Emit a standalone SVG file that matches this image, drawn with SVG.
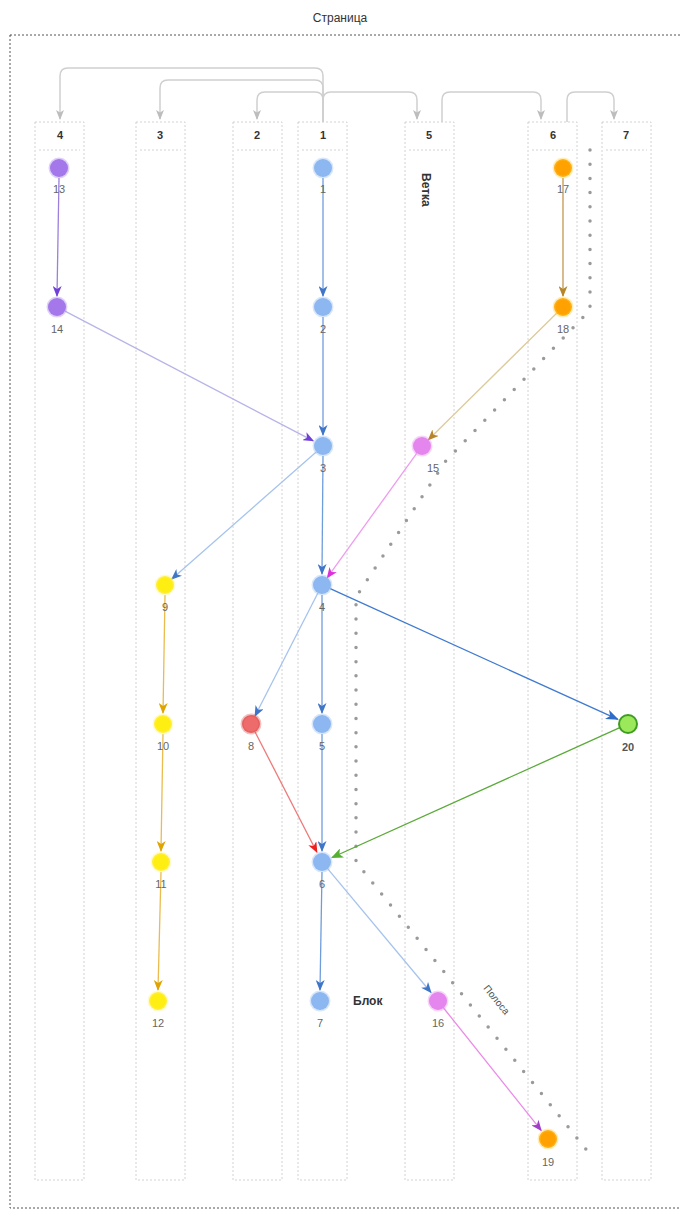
<svg xmlns="http://www.w3.org/2000/svg" width="680" height="1213" viewBox="0 0 680 1213">
<style>
text{font-family:"Liberation Sans",Arial,sans-serif}
.title{font-size:12px;fill:#333;text-anchor:middle}
.lane rect{fill:none;stroke:#d2d2d2;stroke-dasharray:2 2;stroke-width:1}
.lane line{stroke:#d2d2d2;stroke-dasharray:2 2;stroke-width:1}
.lane text{font-size:11px;font-weight:bold;fill:#333;text-anchor:middle}
.nl{font-size:11px;fill:#666;text-anchor:middle}
.top{fill:none;stroke:#cfcfcf;stroke-width:1.5}
.e{fill:none;stroke-width:1.3}
.blue{stroke:#6f9ddc}
.lblue{stroke:#a6c3ee}
.node circle{stroke-width:3;stroke-opacity:0.35}
.b circle{fill:#8db7f0;stroke:#8db7f0}
.p circle{fill:#a478ea;stroke:#a478ea}
.y circle{fill:#ffee11;stroke:#fff27a}
.o circle{fill:#ffa100;stroke:#ffcc33}
.r circle{fill:#ee6b6b;stroke:#d84a4a}
.m circle{fill:#e486ee;stroke:#e486ee}
.g circle{fill:#9be85a;stroke:#3f9e22;stroke-width:2;stroke-opacity:1}
.lbl{font-size:12px;font-weight:bold;fill:#333}
</style>
<defs>
<marker id="aGray" markerUnits="userSpaceOnUse" markerWidth="10" markerHeight="8" refX="9" refY="4" orient="auto"><path d="M0,0 L10,4 L0,8 L2.5,4 z" fill="#bdbdbd"/></marker>
<marker id="aBlue" markerUnits="userSpaceOnUse" markerWidth="11" markerHeight="9" refX="10" refY="4.5" orient="auto"><path d="M0,0 L11,4.5 L0,9 L3,4.5 z" fill="#3f76c8"/></marker>
<marker id="aPurple" markerUnits="userSpaceOnUse" markerWidth="11" markerHeight="9" refX="10" refY="4.5" orient="auto"><path d="M0,0 L11,4.5 L0,9 L3,4.5 z" fill="#7040d8"/></marker>
<marker id="aYellow" markerUnits="userSpaceOnUse" markerWidth="11" markerHeight="9" refX="10" refY="4.5" orient="auto"><path d="M0,0 L11,4.5 L0,9 L3,4.5 z" fill="#e0a400"/></marker>
<marker id="aBrown" markerUnits="userSpaceOnUse" markerWidth="11" markerHeight="9" refX="10" refY="4.5" orient="auto"><path d="M0,0 L11,4.5 L0,9 L3,4.5 z" fill="#b8862a"/></marker>
<marker id="aRed" markerUnits="userSpaceOnUse" markerWidth="11" markerHeight="9" refX="10" refY="4.5" orient="auto"><path d="M0,0 L11,4.5 L0,9 L3,4.5 z" fill="#ee2020"/></marker>
<marker id="aGreen" markerUnits="userSpaceOnUse" markerWidth="12" markerHeight="10" refX="11" refY="5" orient="auto"><path d="M0,0 L12,5 L0,10 L3,5 z" fill="#55b030"/></marker>
<marker id="aMag" markerUnits="userSpaceOnUse" markerWidth="11" markerHeight="9" refX="10" refY="4.5" orient="auto"><path d="M0,0 L11,4.5 L0,9 L3,4.5 z" fill="#dd30dd"/></marker>
<marker id="aViolet" markerUnits="userSpaceOnUse" markerWidth="11" markerHeight="9" refX="10" refY="4.5" orient="auto"><path d="M0,0 L11,4.5 L0,9 L3,4.5 z" fill="#a040c8"/></marker>
<marker id="aBlue2" markerUnits="userSpaceOnUse" markerWidth="13" markerHeight="10" refX="12" refY="5" orient="auto"><path d="M0,0 L13,5 L0,10 L3.5,5 z" fill="#2f6cc8"/></marker>
</defs>
<rect width="680" height="1213" fill="#ffffff"/>
<text class="title" x="340" y="22">Страница</text>
<rect id="page" x="10" y="35" width="690" height="1173" fill="none" stroke="#555" stroke-width="1" stroke-dasharray="2 2"/>

<g id="lanes">
<g id="lane4" class="lane"><rect x="35" y="122" width="49" height="1058"/><line x1="39" y1="150" x2="80" y2="150"/><text x="60" y="139">4</text></g>
<g id="lane3" class="lane"><rect x="136" y="122" width="49" height="1058"/><line x1="140" y1="150" x2="181" y2="150"/><text x="160" y="139">3</text></g>
<g id="lane2" class="lane"><rect x="233" y="122" width="49" height="1058"/><line x1="237" y1="150" x2="278" y2="150"/><text x="257" y="139">2</text></g>
<g id="lane1" class="lane"><rect x="298" y="122" width="49" height="1058"/><line x1="302" y1="150" x2="343" y2="150"/><text x="323" y="139">1</text></g>
<g id="lane5" class="lane"><rect x="405" y="122" width="49" height="1058"/><line x1="409" y1="150" x2="450" y2="150"/><text x="429" y="139">5</text></g>
<g id="lane6" class="lane"><rect x="528" y="122" width="49" height="1058"/><line x1="532" y1="150" x2="573" y2="150"/><text x="553" y="139">6</text></g>
<g id="lane7" class="lane"><rect x="602" y="122" width="49" height="1058"/><line x1="606" y1="150" x2="647" y2="150"/><text x="626" y="139">7</text></g>
</g>

<g id="stripe">
<path d="M590,150 V310 L445,462 L356,597 V862 L589,1153" fill="none" stroke="#9a9a9a" stroke-width="3.5" stroke-linecap="round" stroke-dasharray="0 14.2"/>
<text class="nl" transform="translate(494,1002) rotate(51)" style="font-size:10px;fill:#555">Полоса</text>
</g>

<g id="connectors">
<path class="top" d="M323,122 V76 Q323,68 315,68 H68 Q60,68 60,76 V119" marker-end="url(#aGray)"/>
<path class="top" d="M323,122 V88 Q323,80 315,80 H168 Q160,80 160,88 V119" marker-end="url(#aGray)"/>
<path class="top" d="M323,122 V100 Q323,92 315,92 H265 Q257,92 257,100 V119" marker-end="url(#aGray)"/>
<path class="top" d="M323,122 V100 Q323,92 331,92 H409 Q417,92 417,100 V119" marker-end="url(#aGray)"/>
<path class="top" d="M442,122 V100 Q442,92 450,92 H533 Q541,92 541,100 V119" marker-end="url(#aGray)"/>
<path class="top" d="M567,122 V100 Q567,92 575,92 H606 Q614,92 614,100 V119" marker-end="url(#aGray)"/>

<line class="e" x1="59" y1="178" x2="57" y2="296" stroke="#9c80dc" marker-end="url(#aPurple)"/>
<line class="e" x1="65" y1="311.2" x2="313.2" y2="440.9" stroke="#b8b4e8" marker-end="url(#aPurple)"/>
<line class="e blue" x1="323" y1="178" x2="323" y2="296" marker-end="url(#aBlue)"/>
<line class="e blue" x1="323" y1="317" x2="323" y2="435" marker-end="url(#aBlue)"/>
<line class="e blue" x1="323" y1="456" x2="322" y2="574" marker-end="url(#aBlue)"/>
<line class="e blue" x1="322" y1="595" x2="322" y2="713" marker-end="url(#aBlue)"/>
<line class="e blue" x1="322" y1="734" x2="322" y2="851" marker-end="url(#aBlue)"/>
<line class="e blue" x1="322" y1="872" x2="320" y2="990" marker-end="url(#aBlue)"/>
<line class="e lblue" x1="316.2" y1="452" x2="171.8" y2="579" marker-end="url(#aBlue)"/>
<line class="e lblue" x1="317.9" y1="593" x2="255" y2="716" marker-end="url(#aBlue)"/>
<line class="e" x1="330.2" y1="588.7" x2="617.9" y2="719.4" stroke="#3f7ad0" stroke-width="2" marker-end="url(#aBlue2)"/>
<line class="e" x1="619.8" y1="727.7" x2="332" y2="857.5" stroke="#5aaa38" stroke-width="2" marker-end="url(#aGreen)"/>
<line class="e" x1="255.1" y1="732" x2="316.9" y2="852.2" stroke="#ee7a7a" marker-end="url(#aRed)"/>
<line class="e lblue" x1="327.8" y1="868.9" x2="431" y2="992.5" marker-end="url(#aBlue)"/>
<line class="e" x1="443.6" y1="1008" x2="541.2" y2="1130.4" stroke="#ea8ae8" marker-end="url(#aViolet)"/>
<line class="e" x1="165" y1="595" x2="163" y2="713" stroke="#eabc50" marker-end="url(#aYellow)"/>
<line class="e" x1="163" y1="734" x2="161" y2="851" stroke="#eabc50" marker-end="url(#aYellow)"/>
<line class="e" x1="161" y1="872" x2="158" y2="990" stroke="#eabc50" marker-end="url(#aYellow)"/>
<line class="e" x1="563" y1="178" x2="563" y2="296" stroke="#c49650" marker-end="url(#aBrown)"/>
<line class="e" x1="556.6" y1="313.3" x2="428.4" y2="439.7" stroke="#dccb9c" marker-end="url(#aBrown)"/>
<line class="e" x1="416.7" y1="453.3" x2="327.3" y2="577.7" stroke="#ee9cee" marker-end="url(#aMag)"/>
</g>

<g id="nodes">
<g id="n13" class="node p"><circle cx="59" cy="168" r="9"/><text class="nl" x="59" y="193">13</text></g>
<g id="n14" class="node p"><circle cx="57" cy="307" r="9"/><text class="nl" x="57" y="333">14</text></g>
<g id="n1" class="node b"><circle cx="323" cy="168" r="9"/><text class="nl" x="323" y="193">1</text></g>
<g id="n2" class="node b"><circle cx="323" cy="307" r="9"/><text class="nl" x="323" y="333">2</text></g>
<g id="n3" class="node b"><circle cx="323" cy="446" r="9"/><text class="nl" x="323" y="472">3</text></g>
<g id="n4" class="node b"><circle cx="322" cy="585" r="9"/><text class="nl" x="322" y="611">4</text></g>
<g id="n5" class="node b"><circle cx="322" cy="724" r="9"/><text class="nl" x="322" y="750">5</text></g>
<g id="n6" class="node b"><circle cx="322" cy="862" r="9"/><text class="nl" x="322" y="888">6</text></g>
<g id="n7" class="node b"><circle cx="320" cy="1001" r="9"/><text class="nl" x="320" y="1027">7</text></g>
<g id="n8" class="node r"><circle cx="251" cy="724" r="9"/><text class="nl" x="251" y="750">8</text></g>
<g id="n9" class="node y"><circle cx="165" cy="585" r="9"/><text class="nl" x="165" y="611">9</text></g>
<g id="n10" class="node y"><circle cx="163" cy="724" r="9"/><text class="nl" x="163" y="750">10</text></g>
<g id="n11" class="node y"><circle cx="161" cy="862" r="9"/><text class="nl" x="161" y="888">11</text></g>
<g id="n12" class="node y"><circle cx="158" cy="1001" r="9"/><text class="nl" x="158" y="1027">12</text></g>
<g id="n15" class="node m"><circle cx="422" cy="446" r="9"/><text class="nl" x="433" y="472">15</text></g>
<g id="n16" class="node m"><circle cx="438" cy="1001" r="9"/><text class="nl" x="438" y="1027">16</text></g>
<g id="n17" class="node o"><circle cx="563" cy="168" r="9"/><text class="nl" x="563" y="193">17</text></g>
<g id="n18" class="node o"><circle cx="563" cy="307" r="9"/><text class="nl" x="563" y="333">18</text></g>
<g id="n19" class="node o"><circle cx="548" cy="1139" r="9"/><text class="nl" x="548" y="1166">19</text></g>
<g id="n20" class="node g"><circle cx="628" cy="724" r="9"/><text class="nl" x="628" y="751" style="font-weight:bold;fill:#555">20</text></g>
</g>

<g id="labels">
<text class="lbl" transform="translate(422,173) rotate(90)">Ветка</text>
<text class="lbl" x="353" y="1005">Блок</text>
</g>
</svg>
